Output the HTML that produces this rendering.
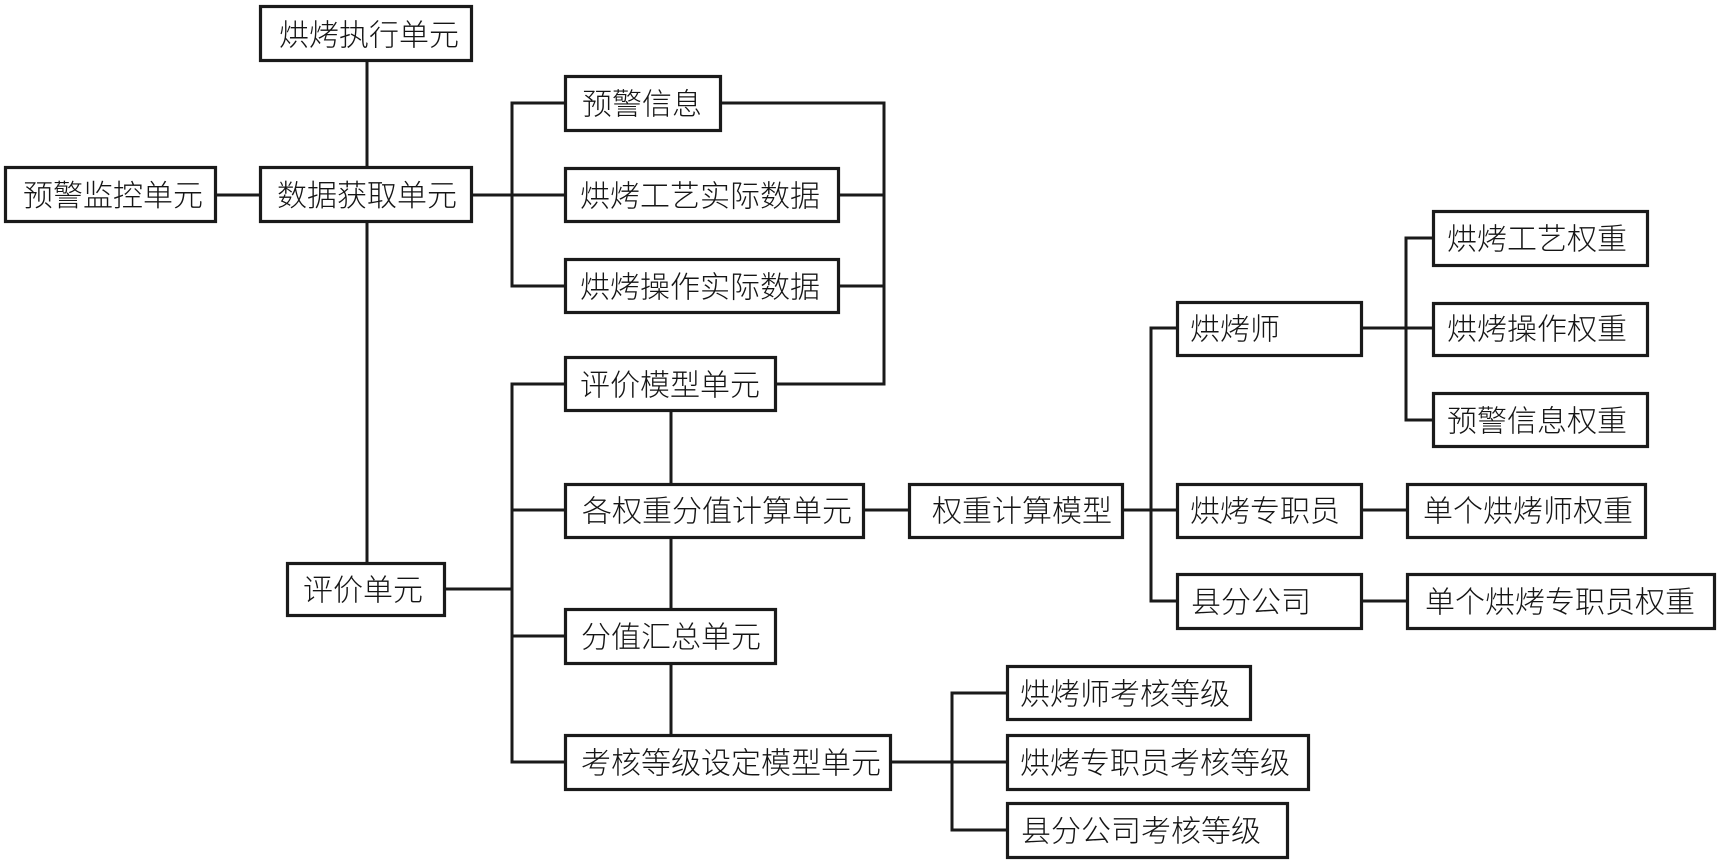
<!DOCTYPE html>
<html>
<head>
<meta charset="utf-8">
<style>
html,body{margin:0;padding:0;background:#fff;}
svg{display:block;}
text{font-family:"Liberation Sans","Noto Sans CJK SC","WenQuanYi Zen Hei",sans-serif;font-size:30px;font-weight:300;fill:#151515;dominant-baseline:central;}
rect{fill:#fff;stroke:#1a1a1a;stroke-width:3.2;}
line{stroke:#1a1a1a;stroke-width:3;}
</style>
</head>
<body>
<svg width="1725" height="862" viewBox="0 0 1725 862" xmlns="http://www.w3.org/2000/svg">
<!-- connectors -->
<line x1="367" y1="62" x2="367" y2="166"/>
<line x1="217" y1="195" x2="259" y2="195"/>
<line x1="367" y1="223" x2="367" y2="562"/>
<line x1="473" y1="195" x2="512" y2="195"/>
<line x1="512" y1="101.5" x2="512" y2="287.5"/>
<line x1="510.5" y1="103" x2="564" y2="103"/>
<line x1="512" y1="195" x2="564" y2="195"/>
<line x1="510.5" y1="286" x2="564" y2="286"/>
<line x1="884" y1="101.5" x2="884" y2="385.5"/>
<line x1="722" y1="103" x2="885.5" y2="103"/>
<line x1="840" y1="195" x2="884" y2="195"/>
<line x1="840" y1="286" x2="884" y2="286"/>
<line x1="777" y1="384" x2="885.5" y2="384"/>
<line x1="446" y1="589" x2="512" y2="589"/>
<line x1="512" y1="382.5" x2="512" y2="763.5"/>
<line x1="510.5" y1="384" x2="564" y2="384"/>
<line x1="512" y1="510" x2="564" y2="510"/>
<line x1="512" y1="636" x2="564" y2="636"/>
<line x1="510.5" y1="762" x2="564" y2="762"/>
<line x1="671" y1="412" x2="671" y2="483"/>
<line x1="671" y1="539" x2="671" y2="608"/>
<line x1="671" y1="665" x2="671" y2="734"/>
<line x1="865" y1="510" x2="908" y2="510"/>
<line x1="1124" y1="510" x2="1176" y2="510"/>
<line x1="1151" y1="326.5" x2="1151" y2="602.5"/>
<line x1="1149.5" y1="328" x2="1176" y2="328"/>
<line x1="1149.5" y1="601" x2="1176" y2="601"/>
<line x1="1363" y1="328" x2="1432" y2="328"/>
<line x1="1406" y1="236.5" x2="1406" y2="421.5"/>
<line x1="1404.5" y1="238" x2="1432" y2="238"/>
<line x1="1404.5" y1="420" x2="1432" y2="420"/>
<line x1="1363" y1="510" x2="1406" y2="510"/>
<line x1="1363" y1="601" x2="1406" y2="601"/>
<line x1="892" y1="762" x2="1006" y2="762"/>
<line x1="952" y1="691.5" x2="952" y2="831.5"/>
<line x1="950.5" y1="693" x2="1006" y2="693"/>
<line x1="950.5" y1="830" x2="1006" y2="830"/>

<!-- boxes -->
<rect x="260.5" y="6.5" width="211" height="54"/><text x="279" y="36">烘烤执行单元</text>
<rect x="5.5" y="167.5" width="210" height="54"/><text x="23" y="196.5">预警监控单元</text>
<rect x="260.5" y="167.5" width="211" height="54"/><text x="277" y="196.5">数据获取单元</text>
<rect x="565.5" y="76.5" width="155" height="54"/><text x="582" y="105">预警信息</text>
<rect x="565.5" y="168.5" width="273" height="53"/><text x="580" y="197">烘烤工艺实际数据</text>
<rect x="565.5" y="259.5" width="273" height="53"/><text x="580" y="288">烘烤操作实际数据</text>
<rect x="565.5" y="357.5" width="210" height="53"/><text x="580" y="386">评价模型单元</text>
<rect x="565.5" y="484.5" width="298" height="53"/><text x="582" y="512">各权重分值计算单元</text>
<rect x="565.5" y="609.5" width="210" height="54"/><text x="581" y="638">分值汇总单元</text>
<rect x="565.5" y="735.5" width="325" height="54"/><text x="581" y="764">考核等级设定模型单元</text>
<rect x="287.5" y="563.5" width="157" height="52"/><text x="303" y="591">评价单元</text>
<rect x="909.5" y="484.5" width="213" height="53"/><text x="932" y="512">权重计算模型</text>
<rect x="1177.5" y="302.5" width="184" height="53"/><text x="1190" y="330">烘烤师</text>
<rect x="1177.5" y="484.5" width="184" height="53"/><text x="1190" y="512">烘烤专职员</text>
<rect x="1177.5" y="574.5" width="184" height="54"/><text x="1191" y="603">县分公司</text>
<rect x="1433.5" y="211.5" width="214" height="54"/><text x="1447" y="240">烘烤工艺权重</text>
<rect x="1433.5" y="303.5" width="214" height="52"/><text x="1447" y="330">烘烤操作权重</text>
<rect x="1433.5" y="393.5" width="214" height="53"/><text x="1447" y="422">预警信息权重</text>
<rect x="1407.5" y="484.5" width="238" height="53"/><text x="1423" y="512">单个烘烤师权重</text>
<rect x="1407.5" y="574.5" width="307" height="54"/><text x="1425" y="603">单个烘烤专职员权重</text>
<rect x="1007.5" y="666.5" width="243" height="53"/><text x="1020" y="695">烘烤师考核等级</text>
<rect x="1007.5" y="735.5" width="301" height="54"/><text x="1020" y="764">烘烤专职员考核等级</text>
<rect x="1007.5" y="803.5" width="280" height="54"/><text x="1021" y="832">县分公司考核等级</text>
</svg>
</body>
</html>
